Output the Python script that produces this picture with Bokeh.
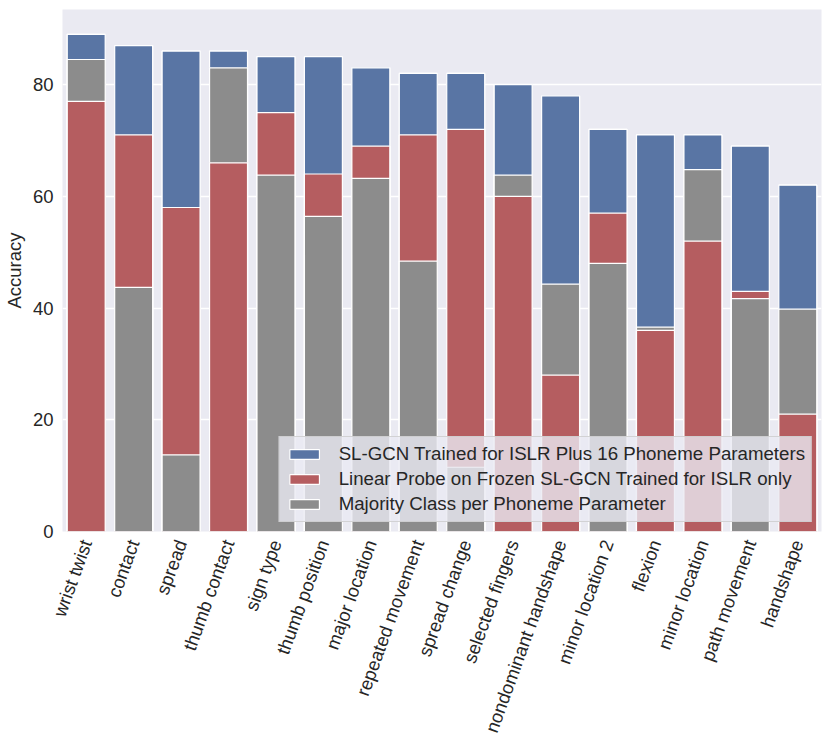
import math
import numpy as np
from bokeh.plotting import figure
from bokeh.models import Legend, LegendItem, ColumnDataSource, FixedTicker, Range1d
from bokeh.embed import file_html
from bokeh.resources import INLINE

categories = ["wrist twist", "contact", "spread", "thumb contact", "sign type",
              "thumb position", "major location", "repeated movement", "spread change",
              "selected fingers", "nondominant handshape", "minor location 2", "flexion",
              "minor location", "path movement", "handshape"]
slgcn = [89, 87, 86, 86, 85, 85, 83, 82, 82, 80, 78, 72, 71, 71, 69, 62]
probe = [77, 71, 58, 66, 75, 64, 69, 71, 72, 60, 28, 57, 36, 52, 43, 21]
majority = [84.5, 43.7, 13.7, 83.0, 63.8, 56.4, 63.2, 48.4, 11.5, 63.8, 44.3, 48.0, 36.6, 64.8, 41.7, 39.8]
series_names = ["SL-GCN Trained for ISLR Plus 16 Phoneme Parameters",
                "Linear Probe on Frozen SL-GCN Trained for ISLR only",
                "Majority Class per Phoneme Parameter"]
series_colors = ["#5975A4", "#B55D60", "#8C8C8C"]
y_ticks = [0, 20, 40, 60, 80]

FONT = "Liberation Sans"
TXT = "#262626"
FS = "18.5px"

p = figure(x_range=categories, y_range=Range1d(0, 93.45),
           frame_width=759, frame_height=522,
           output_backend="svg", toolbar_location=None)
p.min_border_left = 4
p.min_border_right = 1
p.min_border_top = 9
p.min_border_bottom = 10
p.background_fill_color = "#EAEAF2"
p.border_fill_color = "white"
p.outline_line_color = None

# full series bars (also used for the legend swatches)
series_vals = [slgcn, probe, majority]
series_renderers = []
for vals_s, col in zip(series_vals, series_colors):
    r = p.vbar(x=categories, top=vals_s, bottom=0, width=0.8,
               fill_color=col, line_color="white", line_width=1.2)
    series_renderers.append(r)

# per-category overlap ordering: taller bars behind, shorter in front
vals = np.array(series_vals, dtype=float)
order = np.argsort(-vals, axis=0, kind="stable")
for k in range(3):
    idx = order[k]
    tops = [vals[idx[j], j] for j in range(len(categories))]
    cols = [series_colors[idx[j]] for j in range(len(categories))]
    src = ColumnDataSource(dict(x=categories, top=tops, color=cols))
    p.vbar(x="x", top="top", bottom=0, width=0.8, source=src,
           fill_color="color", line_color="white", line_width=1.2)

items = [LegendItem(label=n, renderers=[r]) for n, r in zip(series_names, series_renderers)]
legend = Legend(items=items, location="bottom_right")
legend.margin = 9
legend.padding = 6
legend.spacing = 3
legend.glyph_width = 37
legend.glyph_height = 12
legend.label_standoff = 16
legend.label_text_font = FONT
legend.label_text_font_size = "18.7px"
legend.label_text_color = TXT
legend.background_fill_color = "#EAEAF2"
legend.background_fill_alpha = 0.8
legend.border_line_color = "#CCCCCC"
legend.border_line_alpha = 0.8
p.add_layout(legend)

p.xgrid.visible = False
p.ygrid.grid_line_color = "white"
p.ygrid.grid_line_width = 1.5
p.yaxis.ticker = FixedTicker(ticks=y_ticks)

for ax in (p.xaxis, p.yaxis):
    ax.axis_line_color = None
    ax.major_tick_line_color = None
    ax.minor_tick_line_color = None
    ax.major_tick_out = 0
    ax.major_tick_in = 0
    ax.minor_tick_out = 0
    ax.minor_tick_in = 0
    ax.major_label_text_font = FONT
    ax.major_label_text_font_size = FS
    ax.major_label_text_color = TXT

p.xaxis.major_label_orientation = math.radians(70)
p.xaxis.major_label_standoff = 9
p.yaxis.major_label_standoff = 9
p.yaxis.axis_label = "Accuracy"
p.yaxis.axis_label_text_font = FONT
p.yaxis.axis_label_text_font_size = FS
p.yaxis.axis_label_text_font_style = "normal"
p.yaxis.axis_label_text_color = TXT
p.yaxis.axis_label_standoff = 5

open("out.html", "w").write(file_html(p, INLINE))
